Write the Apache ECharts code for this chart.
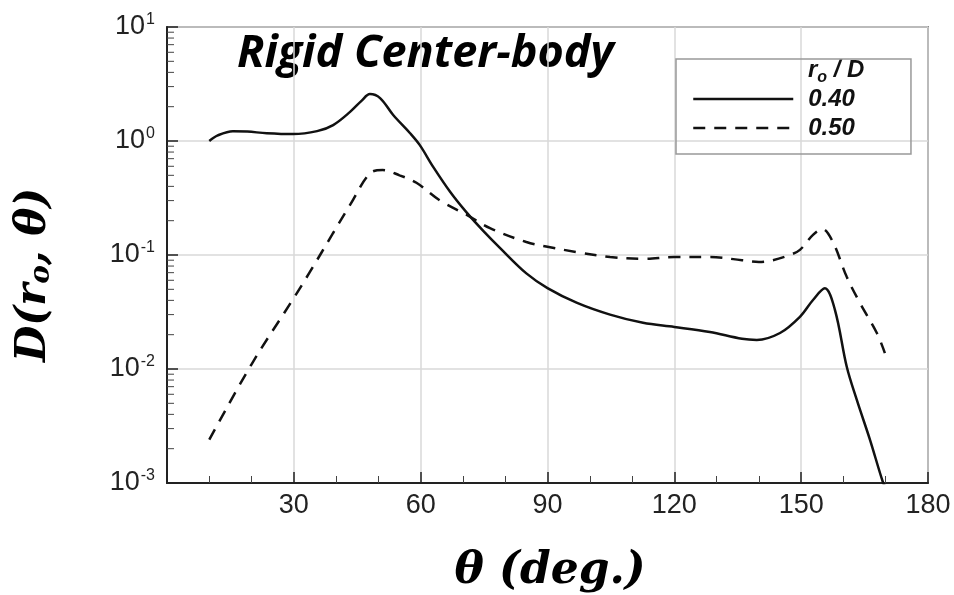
<!DOCTYPE html>
<html>
<head>
<meta charset="utf-8">
<script src="https://cdn.jsdelivr.net/npm/echarts@6/dist/echarts.min.js"></script>
<style>
  html, body { margin: 0; padding: 0; background: #fff; }
  #chart { width: 954px; height: 595px; }
</style>
</head>
<body>
<div id="chart"></div>
<script>
// r_o/D = 0.40 (solid)
const theta040 = [10, 12, 15.6, 19, 23.6, 29.8, 35.5, 39.3, 43.3, 46, 48, 50.4, 53.5, 57.5, 59.8, 63, 67, 71, 74.8,
  78.8, 85, 90, 97, 104.8, 112.6, 120, 128.4, 136, 139.5, 145, 149.7, 152.8, 155.6, 158, 160.8, 163.2, 166.3, 169.4, 170];
const d040 = [1.0, 1.12, 1.22, 1.21, 1.17, 1.15, 1.22, 1.38, 1.8, 2.25, 2.58, 2.38, 1.69, 1.17, 0.92, 0.59, 0.357, 0.233, 0.163,
  0.115, 0.069, 0.0513, 0.038, 0.03, 0.0254, 0.0234, 0.0211, 0.0184, 0.018, 0.0207, 0.0287, 0.0403, 0.051, 0.0329, 0.0104, 0.0053, 0.00238, 0.001, 0.00092];

// r_o/D = 0.50 (dashed)
const theta050 = [10, 20, 30, 33.8, 39.3, 43.3, 48, 51, 55, 59, 64.6, 71, 76.4, 85, 90, 97, 104.8, 112.6, 120, 128.4,
  136, 140, 143.3, 147.3, 149.7, 152.8, 155, 157.5, 160.8, 163.9, 167.9, 169.8];
const d050 = [0.0024, 0.011, 0.042, 0.071, 0.156, 0.275, 0.52, 0.557, 0.5, 0.43, 0.3, 0.224, 0.172, 0.13, 0.118, 0.106, 0.096, 0.0925, 0.096, 0.096,
  0.09, 0.087, 0.09, 0.1, 0.111, 0.15, 0.169, 0.13, 0.064, 0.038, 0.0207, 0.0138];

const xTicks = [0, 30, 60, 90, 120, 150, 180];
const yMinorTicks = [
  0.002, 0.003, 0.004, 0.005, 0.006, 0.007, 0.008, 0.009,
  0.02, 0.03, 0.04, 0.05, 0.06, 0.07, 0.08, 0.09,
  0.2, 0.3, 0.4, 0.5, 0.6, 0.7, 0.8, 0.9,
  2, 3, 4, 5, 6, 7, 8, 9
];
const legendNames = ['0.40', '0.50'];

const chart = echarts.init(document.getElementById('chart'));

const pairs = (xs, ys) => xs.map((x, i) => [x, ys[i]]);

const option = {
  animation: false,
  backgroundColor: '#fff',
  grid: {
    left: 167, top: 27, right: 26, bottom: 112,
    show: true, borderColor: '#333', borderWidth: 1.5
  },
  xAxis: {
    type: 'value',
    min: xTicks[0], max: xTicks[xTicks.length - 1], interval: 30,
    axisLine: { lineStyle: { color: '#222', width: 2 } },
    axisTick: { inside: true, length: 11, lineStyle: { color: '#222', width: 1.5 } },
    minorTick: { show: true, splitNumber: 3, length: 7, lineStyle: { color: '#444', width: 1 } },
    splitLine: { show: true, lineStyle: { color: '#d9d9d9', width: 1.5 } },
    axisLabel: {
      margin: 9, color: '#222', fontSize: 27, fontFamily: 'Liberation Sans',
      formatter: v => (v === 0 ? '' : String(v))
    }
  },
  yAxis: {
    type: 'log', logBase: 10, min: 0.001, max: 10,
    axisLine: { lineStyle: { color: '#222', width: 2 } },
    axisTick: { inside: true, length: 11, lineStyle: { color: '#222', width: 1.5 } },
    splitLine: { show: true, lineStyle: { color: '#d9d9d9', width: 1.5 } },
    axisLabel: {
      margin: 12, color: '#222', fontSize: 27, fontFamily: 'Liberation Sans',
      formatter: v => '10{sup|' + Math.round(Math.log10(v)) + '}',
      rich: {
        sup: { fontSize: 16, fontFamily: 'Liberation Sans', color: '#222', verticalAlign: 'top', padding: [0, 0, 14, 1] }
      }
    }
  },
  legend: {
    orient: 'vertical',
    left: 676, top: 59,
    data: legendNames,
    itemWidth: 100, itemHeight: 20, itemGap: 5,
    borderColor: '#999', borderWidth: 1.5,
    padding: [28, 56, 14, 16],
    itemStyle: { opacity: 0 },
    lineStyle: { width: 2.5 },
    textStyle: { fontSize: 24, fontWeight: 'bold', fontStyle: 'italic', fontFamily: 'Liberation Sans', color: '#111', padding: [0, 0, 0, 10] }
  },
  graphic: [
    {
      type: 'text', left: 237, top: 32,
      style: { text: 'Rigid Center-body', font: 'italic bold 45px "Open Sans"', fill: '#000' }
    },
    {
      type: 'text', left: 808, top: 58,
      style: {
        text: 'r{sub|o} / D',
        font: 'italic bold 24px "Liberation Sans"', fill: '#111',
        rich: { sub: { font: 'italic bold 16px "Liberation Sans"', padding: [16, 0, 0, 0] } }
      }
    },
    {
      type: 'text', x: 34, y: 275, rotation: Math.PI / 2,
      style: {
        text: 'D(r{sub|o}, θ)',
        font: 'italic bold 42px "DejaVu Serif"', fill: '#000',
        align: 'center', verticalAlign: 'middle',
        rich: { sub: { font: 'italic bold 28px "DejaVu Serif"', padding: [16, 0, 0, 0] } }
      }
    },
    {
      type: 'text', x: 550, y: 572,
      style: {
        text: 'θ (deg.)',
        font: 'italic bold 44px "DejaVu Serif"', fill: '#000',
        align: 'center', verticalAlign: 'middle'
      }
    }
  ],
  series: [
    {
      name: legendNames[0], type: 'line', data: pairs(theta040, d040),
      smooth: 0.35, symbol: 'none', clip: true,
      itemStyle: { color: '#111' },
      lineStyle: { color: '#111', width: 2.5, type: 'solid' }
    },
    {
      name: legendNames[1], type: 'line', data: pairs(theta050, d050),
      smooth: 0.35, symbol: 'none', clip: true,
      itemStyle: { color: '#111' },
      lineStyle: { color: '#111', width: 2.5, type: [12, 9] }
    },
    {
      // log-spaced minor ticks on the y axis (inside, left edge)
      type: 'custom', silent: true, clip: false,
      data: yMinorTicks.map(v => [xTicks[0], v]),
      renderItem: (params, api) => {
        const p = api.coord([api.value(0), api.value(1)]);
        return {
          type: 'line',
          shape: { x1: p[0], y1: p[1], x2: p[0] + 7, y2: p[1] },
          style: { stroke: '#444', lineWidth: 1 }
        };
      }
    }
  ]
};

chart.setOption(option);
</script>
</body>
</html>
